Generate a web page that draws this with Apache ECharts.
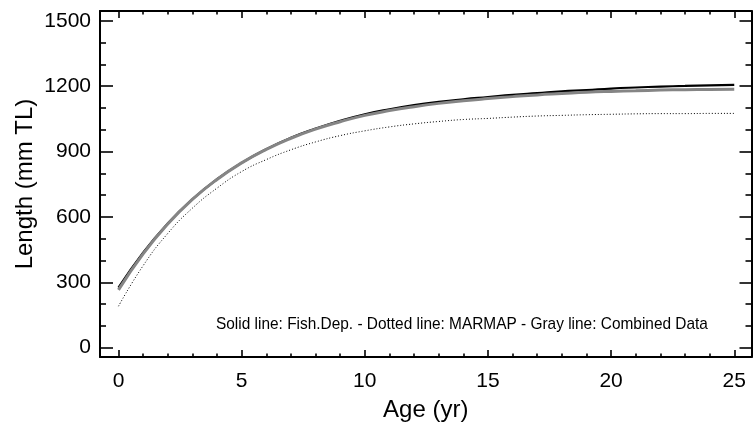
<!DOCTYPE html>
<html>
<head>
<meta charset="utf-8">
<script src="https://cdn.jsdelivr.net/npm/echarts@6/dist/echarts.min.js"></script>
<style>
  html, body { margin: 0; padding: 0; background: #fff; }
  #chart { width: 753px; height: 424px; }
</style>
</head>
<body>
<div id="chart"></div>
<script>
// ages (yr)
const ages = [0, 1, 2, 3, 4, 5, 6, 7, 8, 9, 10, 11, 12, 13, 14, 15, 16, 17, 18, 19, 20, 21, 22, 23, 24, 25]
// length (mm TL)
const fishDep = [275, 436, 570, 681, 773, 848, 911, 963, 1005, 1041, 1071, 1094, 1113, 1128, 1140, 1150, 1160, 1168, 1176, 1182, 1189, 1194, 1198, 1201, 1204, 1206]
const marmap = [190, 376, 524, 640, 732, 808, 863, 908, 944, 973, 995, 1013, 1027, 1038, 1047, 1052, 1058, 1063, 1066, 1069, 1071, 1073, 1074, 1074, 1075, 1075]
const combined = [265, 430, 567, 680, 772, 848, 910, 961, 1003, 1037, 1066, 1088, 1106, 1121, 1133, 1143, 1152, 1160, 1166, 1172, 1176, 1179, 1182, 1184, 1185, 1186]

const xMajor = [0, 5, 10, 15, 20, 25]
const xMinor = [1, 2, 3, 4, 6, 7, 8, 9, 11, 12, 13, 14, 16, 17, 18, 19, 21, 22, 23, 24]
const yMajor = [0, 300, 600, 900, 1200, 1500]
const yMinor = [100, 200, 400, 500, 700, 800, 1000, 1100, 1300, 1400]

const note = 'Solid line: Fish.Dep. - Dotted line: MARMAP - Gray line: Combined Data'

const font = '"Liberation Sans", Arial, sans-serif'
const X_MIN = -0.75, X_MAX = 25.7
const Y_MIN = -43, Y_MAX = 1545

// one axis per side and tick length, all sharing the same range
function makeAxis (pos, min, max, ticks, len, showLine) {
    return {
        type: 'value',
        position: pos,
        min: min,
        max: max,
        axisLine: { show: !!showLine, onZero: false, lineStyle: { color: '#000', width: 2 } },
        axisTick: { show: true, inside: true, length: len, customValues: ticks, lineStyle: { color: '#000', width: 1.6 } },
        axisLabel: { show: false },
        splitLine: { show: false }
    }
}

const xMain = makeAxis('bottom', X_MIN, X_MAX, xMajor, 7, true)
xMain.axisLabel = { show: true, customValues: xMajor, margin: 14, fontSize: 21, fontFamily: font, color: '#000' }
xMain.name = 'Age (yr)'
xMain.nameLocation = 'middle'
xMain.nameGap = 41
xMain.nameMoveOverlap = false
xMain.nameTextStyle = { fontSize: 24, fontFamily: font, color: '#000' }

const yMain = makeAxis('left', Y_MIN, Y_MAX, yMajor, 13, true)
yMain.axisLabel = { show: true, customValues: yMajor, margin: 9, fontSize: 21, fontFamily: font, color: '#000', formatter: (v) => String(v) }
yMain.name = 'Length (mm TL)'
yMain.nameLocation = 'middle'
yMain.nameGap = 63
yMain.nameMoveOverlap = false
yMain.nameTextStyle = { fontSize: 24, fontFamily: font, color: '#000' }

const pts = (ys) => ages.map((a, i) => [a, ys[i]])

const chart = echarts.init(document.getElementById('chart'))
chart.setOption({
    animation: false,
    backgroundColor: '#fff',
    grid: { left: 100, top: 11, right: 1.5, bottom: 67, containLabel: false, outerBoundsMode: 'none' },
    xAxis: [
        xMain,
        makeAxis('bottom', X_MIN, X_MAX, xMinor, 3.5),
        makeAxis('top', X_MIN, X_MAX, xMajor, 7, true),
        makeAxis('top', X_MIN, X_MAX, xMinor, 3.5)
    ],
    yAxis: [
        yMain,
        makeAxis('left', Y_MIN, Y_MAX, yMinor, 6),
        makeAxis('right', Y_MIN, Y_MAX, yMajor, 12, true),
        makeAxis('right', Y_MIN, Y_MAX, yMinor, 6)
    ],
    graphic: [
        {
            type: 'text',
            x: 216,
            y: 324.5,
            scaleX: 0.907,
            silent: true,
            style: {
                text: note,
                fontSize: 17,
                fontFamily: font,
                fill: '#000',
                verticalAlign: 'middle'
            }
        }
    ],
    series: [
        {
            name: 'Fish.Dep.',
            type: 'line',
            data: pts(fishDep),
            showSymbol: false,
            smooth: true,
            silent: true,
            lineStyle: { color: '#000', width: 2.2 }
        },
        {
            name: 'MARMAP',
            type: 'line',
            data: pts(marmap),
            showSymbol: false,
            smooth: true,
            silent: true,
            lineStyle: { color: '#000', width: 1, type: [1, 2] }
        },
        {
            name: 'Combined Data',
            type: 'line',
            data: pts(combined),
            showSymbol: false,
            smooth: true,
            silent: true,
            lineStyle: { color: '#858585', width: 3 }
        }
    ]
})
</script>
</body>
</html>
